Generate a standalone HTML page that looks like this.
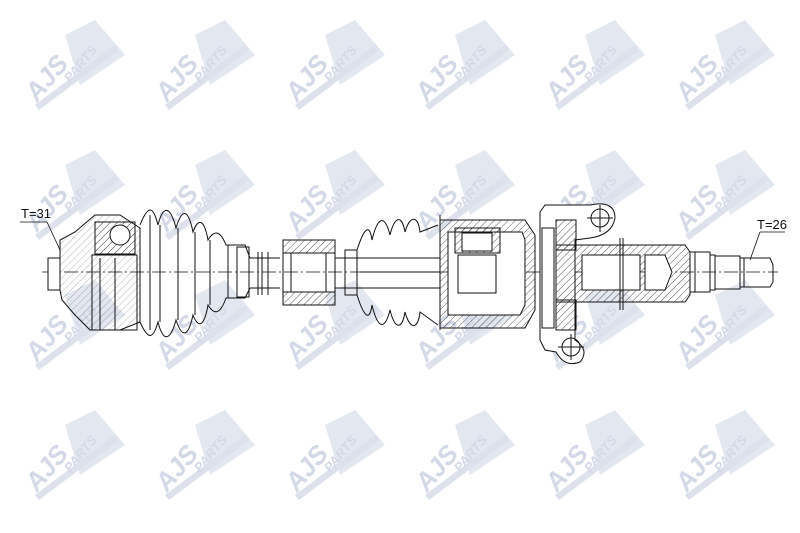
<!DOCTYPE html>
<html><head><meta charset="utf-8"><style>
html,body{margin:0;padding:0;background:#fff;}
svg{display:block}
</style></head><body>
<svg width="800" height="533" viewBox="0 0 800 533" xmlns="http://www.w3.org/2000/svg">
<defs>
<pattern id="h" width="5" height="5" patternUnits="userSpaceOnUse" patternTransform="rotate(45)">
<line x1="0" y1="0" x2="0" y2="5" stroke="#222" stroke-width="0.8"/></pattern>
<g id="logo">
<path d="M-10,-40 L20,-55 L50,-20 L5,10 Z" fill="#e3e7f0"/>
<path d="M-40,30 L40,-30 L44,-25 L-36,35 Z" fill="#dce1ec"/>
<text x="-38" y="28" font-size="26" transform="rotate(-50 -38 28)" font-family="Liberation Sans, sans-serif" font-weight="bold" font-style="italic" fill="#d3d9e7">AJS</text>
<text x="-5" y="8" font-size="13" transform="rotate(-50 -5 8)" font-family="Liberation Sans, sans-serif" font-weight="bold" font-style="italic" fill="#d3d9e7">PARTS</text>
</g>
</defs>
<rect width="800" height="533" fill="#fff"/>
<g>
<use href="#logo" x="75" y="75"/><use href="#logo" x="205" y="75"/><use href="#logo" x="335" y="75"/><use href="#logo" x="465" y="75"/><use href="#logo" x="595" y="75"/><use href="#logo" x="725" y="75"/>
<use href="#logo" x="75" y="205"/><use href="#logo" x="205" y="205"/><use href="#logo" x="335" y="205"/><use href="#logo" x="465" y="205"/><use href="#logo" x="595" y="205"/><use href="#logo" x="725" y="205"/>
<use href="#logo" x="75" y="335"/><use href="#logo" x="205" y="335"/><use href="#logo" x="335" y="335"/><use href="#logo" x="465" y="335"/><use href="#logo" x="595" y="335"/><use href="#logo" x="725" y="335"/>
<use href="#logo" x="75" y="465"/><use href="#logo" x="205" y="465"/><use href="#logo" x="335" y="465"/><use href="#logo" x="465" y="465"/><use href="#logo" x="595" y="465"/><use href="#logo" x="725" y="465"/>
</g>
<g fill="none" stroke="#111" stroke-width="1">
<line x1="42" y1="272" x2="778" y2="272" stroke-dasharray="14,3,2,3" stroke-width="0.7"/>
<!-- left outer joint -->
<path d="M48,258 L60,258 L60,240 L75,232 L95,215 L120,215 L140,228 L140,322 L120,330 L90,330 L75,315 L62,300 L60,290 L48,290 Z" fill="url(#h)" fill-opacity="0.4"/>
<path d="M48,258 L60,258 L60,290 L48,290 Z" fill="#fff"/>
<rect x="95" y="222" width="40" height="32" fill="url(#h)"/>
<circle cx="120" cy="235" r="10" fill="#fff"/>
<rect x="92" y="255" width="45" height="75"/>
<path d="M60,258 L60,290 M100,258 L100,330 M115,258 L115,330"/>
<!-- left boot -->
<path d="M140,225 C148,205 153,205 158,225 C163,205 170,205 176,228 C182,208 188,208 193,232 C198,218 204,218 208,240 C214,230 220,230 226,245 L245,245 L250,258"/>
<path d="M140,322 C148,340 153,340 158,322 C163,342 170,342 176,320 C182,338 188,338 193,315 C198,328 204,328 208,305 C214,315 220,315 226,298 L245,298 L250,288"/>
<path d="M150,215 L150,330 M160,225 L160,322 M178,228 L178,320 M195,232 L195,315 M210,240 L210,305 M228,245 L228,298"/>
<rect x="237" y="247" width="12" height="50"/>
<!-- shaft -->
<path d="M250,258 L280,258 M250,288 L280,288 M335,258 L360,258 M335,288 L360,288 M258,252 L258,295 M262,252 L262,295 M268,252 L268,295"/>
<!-- damper -->
<rect x="283" y="240" width="52" height="13" fill="url(#h)"/>
<rect x="283" y="292" width="52" height="13" fill="url(#h)"/>
<rect x="291" y="253" width="35" height="39"/>
<line x1="283" y1="240" x2="283" y2="305"/><line x1="335" y1="240" x2="335" y2="305"/>
<!-- right boot -->
<rect x="345" y="250" width="12" height="45"/>
<path d="M357,250 C365,225 370,225 372,240 C378,215 385,215 390,235 C395,215 402,215 405,232 C410,215 418,215 420,232 L438,225"/>
<path d="M357,295 C365,320 370,320 372,305 C378,330 385,330 390,310 C395,330 402,330 405,312 C410,330 418,330 420,312 L438,325"/>
<path d="M360,272 L440,272 M360,258 L440,258 M360,288 L440,288"/>
<!-- tripod housing -->
<path d="M440,220 L525,220 L535,235 L535,310 L525,328 L440,328 Z" fill="url(#h)" fill-opacity="0.9"/>
<path d="M448,232 L522,232 L525,240 L525,305 L520,315 L448,315 Z" fill="#fff"/>
<rect x="455" y="228" width="45" height="25" fill="url(#h)"/>
<rect x="462" y="233" width="30" height="18" fill="#fff"/>
<rect x="458" y="255" width="38" height="38" fill="#fff"/>
<line x1="440" y1="215" x2="440" y2="330"/>
<!-- bracket -->
<path d="M540,212 L545,205 L590,205 Q615,200 615,218 Q612,235 590,238 L575,240 L575,300 L575,340 Q590,350 580,362 Q565,368 556,352 L545,350 L540,340 Z" fill="#fff"/>
<rect x="542" y="228" width="12" height="100"/>
<rect x="556" y="220" width="20" height="30" fill="url(#h)"/>
<rect x="556" y="300" width="20" height="30" fill="url(#h)"/>
<circle cx="600" cy="218" r="9"/><circle cx="571" cy="347" r="9"/>
<path d="M600,205 L600,232 M587,218 L613,218 M571,334 L571,360 M558,347 L584,347"/>
<!-- stub shaft -->
<path d="M556,245 L685,245 L690,252 L690,295 L685,302 L556,302 Z" fill="url(#h)"/>
<path d="M582,255 L640,255 L640,290 L582,290 Z M645,255 L665,255 L672,272 L665,290 L645,290 Z" fill="#fff"/>
<path d="M620,238 L620,310 M623,238 L623,310"/>
<!-- spline end -->
<path d="M690,252 L710,252 L710,292 L690,292 M710,255 L715,255 L715,290 L710,290 M715,256 L740,256 L740,289 L715,289 M740,258 L770,258 L773,265 L773,282 L770,287 L740,287"/>
<path d="M695,252 L695,292 M744,258 L744,287"/>
<path d="M20,222 L47,222 L60,250" stroke-width="0.8"/>
<path d="M760,232 L785,232 M760,232 L750,260" stroke-width="0.8"/>
</g>
<text x="21" y="218" font-family="Liberation Sans, sans-serif" font-size="13" fill="#111">T=31</text>
<text x="757" y="229" font-family="Liberation Sans, sans-serif" font-size="13" fill="#111">T=26</text>
</svg>
</body></html>
